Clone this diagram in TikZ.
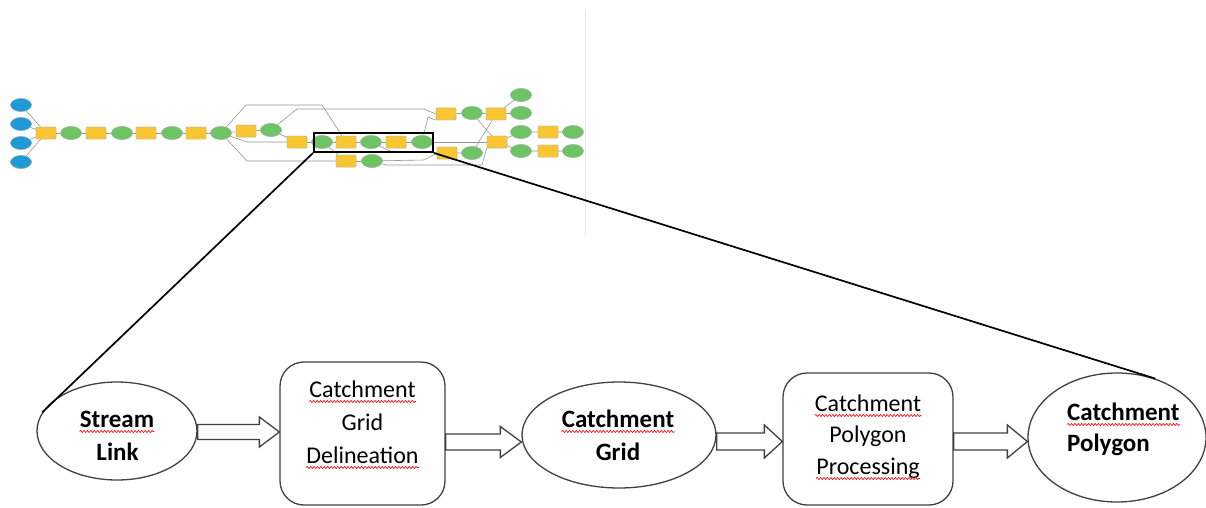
\documentclass[tikz,border=0pt]{standalone}
\usepackage{fontspec}
\setmainfont{Carlito}
\usetikzlibrary{shapes.geometric,decorations.pathmorphing,calc}

\definecolor{inblue}{RGB}{30,155,215}
\definecolor{outgreen}{RGB}{108,196,98}
\definecolor{toolyellow}{RGB}{248,198,50}
\definecolor{wiregray}{RGB}{150,150,150}
\definecolor{edge}{RGB}{65,65,65}

\tikzset{
  % small model-builder overview
  mnode/.style={draw=gray!60, line width=0.4pt, inner sep=0pt},
  minput/.style={mnode, ellipse, fill=inblue, minimum width=21pt, minimum height=13pt},
  mdata/.style={mnode, ellipse, fill=outgreen, minimum width=21pt, minimum height=13pt},
  mtool/.style={mnode, rectangle, rounded corners=1pt, fill=toolyellow, minimum width=20pt, minimum height=12pt},
  wire/.style={draw=wiregray, line width=0.6pt},
  zoomframe/.style={draw=black, line width=2pt, minimum width=119pt, minimum height=19pt, inner sep=0pt},
  zoomline/.style={draw=black, line width=1.7pt},
  % enlarged flow
  flowell/.style={draw=edge, line width=1.3pt, ellipse, inner sep=0pt},
  flowbox/.style={draw=edge, line width=1.3pt, rectangle, rounded corners=24pt, inner sep=0pt},
  blockarrow/.style={draw=edge, line width=1.3pt, fill=white, line join=miter},
  word/.style={inner sep=0pt, anchor=base, font=\fontsize{24}{28}\selectfont},
  bword/.style={word, font=\fontsize{25}{28}\selectfont\bfseries},
  spell/.style={draw=red, line width=0.6pt, decorate,
                decoration={snake, amplitude=1.1pt, segment length=3.4pt}},
}

% hollow block arrow between two nodes, centred on a given height
% #1 from, #2 to, #3 centre y, #4 shaft half height, #5 head half height, #6 head length
\newcommand\hollowarrow[6]{%
  \coordinate (ha-s) at (#1.east |- 0,#3);
  \coordinate (ha-t) at (#2.west |- 0,#3);
  \draw[blockarrow] ([yshift=#4]ha-s) -- ([xshift=-#6,yshift=#4]ha-t)
    -- ([xshift=-#6,yshift=#5]ha-t) -- (ha-t)
    -- ([xshift=-#6,yshift=-#5]ha-t) -- ([xshift=-#6,yshift=-#4]ha-t)
    -- ([yshift=-#4]ha-s) -- cycle;}

% red spelling underline below a word node
\newcommand\spellmark[1]{%
  \draw[spell] ([yshift=-4.5pt]#1.base west) -- ([yshift=-4.5pt]#1.base east);}

\begin{document}
\begin{tikzpicture}[x=1pt,y=-1pt]
\useasboundingbox[fill=white] (0,0) rectangle (1206,508);

% edge of the overview image
\draw[gray!18, line width=0.8pt] (585,10) -- (585,235);

% ---------- overview model: bend points of the wires ----------
\coordinate (w1) at (246,105);
\coordinate (w2) at (322,105);
\coordinate (w3) at (247,142);
\coordinate (w4) at (247,161);
\coordinate (w5) at (297,109);
\coordinate (w6) at (424,109);
\coordinate (w7) at (424,160);
\coordinate (w8) at (386,165);
\coordinate (w9) at (482,165);
\coordinate (w10) at (390,151);
\coordinate (w11) at (428,117);

% ---------- overview model: elements ----------
\node[minput] (b1) at (21,105) {};
\node[minput] (b2) at (21,124) {};
\node[minput] (b3) at (21,143) {};
\node[minput] (b4) at (21,162) {};

\node[mtool] (y1) at (46,133) {};
\node[mdata] (g1) at (71,133) {};
\node[mtool] (y2) at (96,133) {};
\node[mdata] (g2) at (122,133) {};
\node[mtool] (y3) at (146,133) {};
\node[mdata] (g3) at (172,133) {};
\node[mtool] (y4) at (196,133) {};
\node[mdata] (g4) at (221,133) {};

\node[mtool] (y5) at (246,131) {};
\node[mdata] (g5) at (271,130) {};

\node[mtool] (y6) at (297,142) {};
\node[mdata] (g6) at (322,142) {};
\node[mtool] (y7) at (346,142) {};
\node[mdata] (g7) at (371,142) {};
\node[mtool] (y8) at (396,142) {};
\node[mdata] (g8) at (422,142) {};

\node[mtool] (y9) at (346,161) {};
\node[mdata] (g9) at (372,161) {};

\node[mtool] (y10) at (446,114) {};
\node[mdata] (g10) at (472,113) {};
\node[mtool] (y11) at (496,114) {};
\node[mdata] (g11) at (521,95) {};
\node[mdata] (g12) at (521,113) {};

\node[mtool] (y12) at (447,153) {};
\node[mdata] (g13) at (472,153) {};

\node[mtool] (y13) at (497,142) {};
\node[mdata] (g14) at (521,132) {};
\node[mtool] (y14) at (548,132) {};
\node[mdata] (g15) at (573,132) {};
\node[mdata] (g16) at (521,151) {};
\node[mtool] (y15) at (548,151) {};
\node[mdata] (g17) at (573,151) {};

% ---------- overview model: wires ----------
\foreach \b in {b1,b2,b3,b4} \draw[wire] (\b) -- (y1);
\draw[wire] (y1) -- (g1) -- (y2) -- (g2) -- (y3) -- (g3) -- (y4) -- (g4);
\draw[wire] (g4) -- (y5) -- (g5);
\draw[wire] (g4) -- (w1) -- (w2) -- ([xshift=-4pt]y7.north);
\draw[wire] (g4) -- (w3) -- (y6.west);
\draw[wire] (g4) -- (w4) -- (y9.west);
\draw[wire] (g5) -- (y6);
\draw[wire] (g5) -- (w5) -- (w6) -- (y10.west);
\draw[wire] (y6) -- (g6) -- (y7) -- (g7) -- (y8) -- (g8);
\draw[wire] (g6) -- (y9);
\draw[wire] (y9) -- (g9);
\draw[wire] (g9) -- (w7) -- (y12.west);
\draw[wire] (g9) -- (w8) -- (w9) -- (y13.south west);
\draw[wire] (g7) -- (w10) -- (y12.west);
\draw[wire] (g8) -- (w11) -- (y10.south west);
\draw[wire] (g8) -- (y13);
\draw[wire] (y10) -- (g10) -- (y11);
\draw[wire] (y11) -- (g11);
\draw[wire] (y11) -- (g12);
\draw[wire] (g10) -- (y13);
\draw[wire] (y12) -- (g13) -- (y11);
\draw[wire] (y13) -- (g14) -- (y14) -- (g15);
\draw[wire] (y13) -- (g16) -- (y15) -- (g17);

% elements painted again so that they sit above the wires
\foreach \n/\s in {b1/minput,b2/minput,b3/minput,b4/minput,
  y1/mtool,y2/mtool,y3/mtool,y4/mtool,y5/mtool,y6/mtool,y7/mtool,y8/mtool,
  y9/mtool,y10/mtool,y11/mtool,y12/mtool,y13/mtool,y14/mtool,y15/mtool,
  g1/mdata,g2/mdata,g3/mdata,g4/mdata,g5/mdata,g6/mdata,g7/mdata,g8/mdata,
  g9/mdata,g10/mdata,g11/mdata,g12/mdata,g13/mdata,g14/mdata,g15/mdata,
  g16/mdata,g17/mdata}
  \node[\s] at (\n.center) {};

% zoom window
\node[zoomframe] (zw) at (373.5,142.5) {};

% ---------- enlarged flow ----------
\node[flowell, minimum width=160pt, minimum height=98pt] (e1) at (117,431) {};
\node[flowbox, minimum width=165pt, minimum height=143pt] (r1) at (362.5,433.5) {};
\node[flowell, minimum width=194pt, minimum height=106pt] (e2) at (619,435) {};
\node[flowbox, minimum width=170pt, minimum height=132pt] (r2) at (868,439) {};
\node[flowell, minimum width=178pt, minimum height=129pt] (e3) at (1117,437.5) {};

\draw[zoomline] (zw.south west) -- (e1.166);
\draw[zoomline] (zw.south east) -- (e3.57);

\hollowarrow{e1}{r1}{432}{7.5pt}{15pt}{20pt}
\hollowarrow{r1}{e2}{442}{8pt}{15.5pt}{21pt}
\hollowarrow{e2}{r2}{441.5}{8.5pt}{16.5pt}{18pt}
\hollowarrow{r2}{e3}{441.5}{8.5pt}{16.5pt}{20pt}

% labels
\node[bword] (e1a) at (117,427) {Stream};
\node[bword] (e1b) at (117.5,460) {Link};
\node[word] (r1a) at (362.5,397) {Catchment};
\node[word] (r1b) at (362.5,430) {Grid};
\node[word] (r1c) at (362.5,463) {Delineation};
\node[bword] (e2a) at (618,427) {Catchment};
\node[bword] (e2b) at (618,460) {Grid};
\node[word] (r2a) at (868,411) {Catchment};
\node[word] (r2b) at (868,442) {Polygon};
\node[word] (r2c) at (868,474) {Processing};
\node[bword, anchor=base west] (e3a) at (1067,420) {Catchment};
\node[bword, anchor=base west] (e3b) at (1067,451) {Polygon};

\spellmark{e1a}
\spellmark{r1a}
\spellmark{r1c}
\spellmark{e2a}
\spellmark{r2a}
\spellmark{r2c}
\spellmark{e3a}
\end{tikzpicture}
\end{document}
